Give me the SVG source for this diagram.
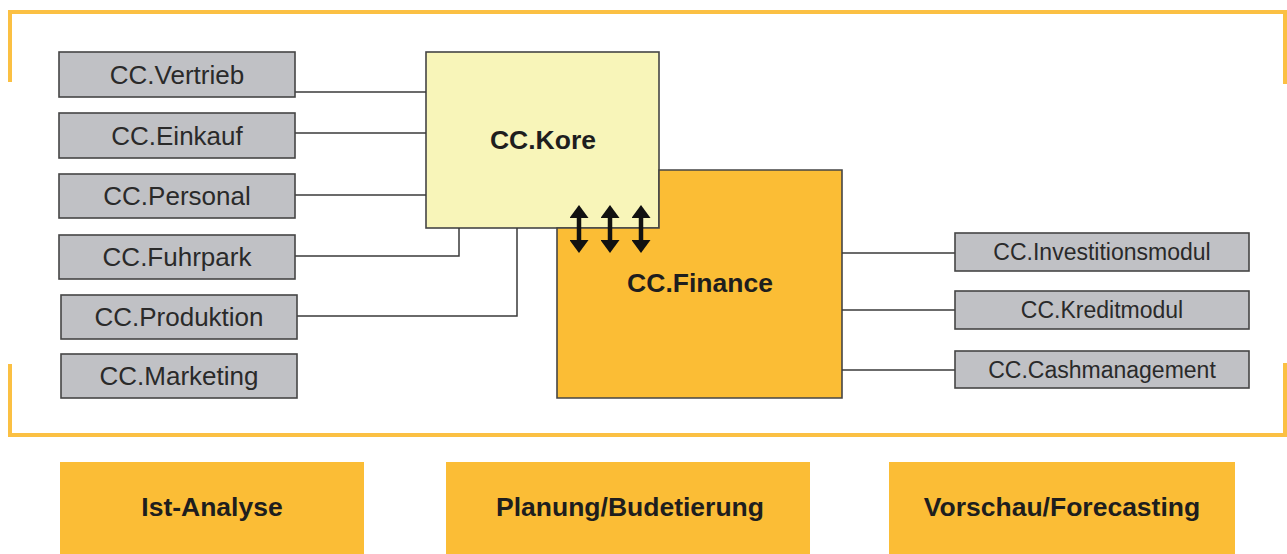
<svg xmlns="http://www.w3.org/2000/svg" width="1287" height="554" viewBox="0 0 1287 554">
<style>
.gray rect{fill:#c0c1c5;stroke:#454545;stroke-width:1.6}
.gray text{font-family:"Liberation Sans",Arial,sans-serif;font-size:26px;fill:#2a2a2a;text-anchor:middle}
.gray.r text{font-size:23px}
.frame{fill:none;stroke:#fbc043;stroke-width:4}
.conn line,.conn polyline{fill:none;stroke:#3a3a3a;stroke-width:1.5}
.big text{font-family:"Liberation Sans",Arial,sans-serif;font-weight:bold;font-size:26.5px;fill:#1e1e1e;text-anchor:middle}
.bottom rect{fill:#fbbd36}
.arr{stroke:#111;stroke-width:4.5;marker-start:url(#ah);marker-end:url(#ah)}
</style>
<defs>
<marker id="ah" viewBox="0 0 13 19" refX="0" refY="9.5" markerWidth="13" markerHeight="19" markerUnits="userSpaceOnUse" orient="auto-start-reverse">
<path d="M0,0 L13,9.5 L0,19 Z" fill="#111"/>
</marker>
</defs>
<rect width="1287" height="554" fill="#ffffff"/>
<g id="frame">
<path class="frame" d="M10,82 V12 H1285 V84"/>
<path class="frame" d="M10,364 V435 H1285 V363"/>
</g>
<g id="kore" class="big">
<rect x="426" y="52" width="233" height="176" fill="#f8f5b9" stroke="#454545" stroke-width="1.6"/>
<text x="543" y="149">CC.Kore</text>
</g>
<g id="finance" class="big">
<path d="M659,170 H842 V398 H557 V228 H659 Z" fill="#fbbd35" stroke="#454545" stroke-width="1.6"/>
<text x="700" y="292">CC.Finance</text>
</g>
<g id="arrows">
<line class="arr" x1="579" y1="218" x2="579" y2="240"/>
<line class="arr" x1="610" y1="218" x2="610" y2="240"/>
<line class="arr" x1="641" y1="218" x2="641" y2="240"/>
</g>
<g id="connectors" class="conn">
<line x1="295" y1="92" x2="426" y2="92"/>
<line x1="295" y1="133" x2="426" y2="133"/>
<line x1="295" y1="195" x2="426" y2="195"/>
<polyline points="295,256 459,256 459,228"/>
<polyline points="297,316 517,316 517,228"/>
<line x1="842" y1="253" x2="955" y2="253"/>
<line x1="842" y1="310" x2="955" y2="310"/>
<line x1="842" y1="370" x2="955" y2="370"/>
</g>
<g id="vertrieb" class="gray"><rect x="59" y="52" width="236" height="45"/><text x="177" y="84">CC.Vertrieb</text></g>
<g id="einkauf" class="gray"><rect x="59" y="113" width="236" height="45"/><text x="177" y="145">CC.Einkauf</text></g>
<g id="personal" class="gray"><rect x="59" y="174" width="236" height="44"/><text x="177" y="205">CC.Personal</text></g>
<g id="fuhrpark" class="gray"><rect x="59" y="235" width="236" height="44"/><text x="177" y="266">CC.Fuhrpark</text></g>
<g id="produktion" class="gray"><rect x="61" y="295" width="236" height="44"/><text x="179" y="326">CC.Produktion</text></g>
<g id="marketing" class="gray"><rect x="61" y="354" width="236" height="44"/><text x="179" y="385">CC.Marketing</text></g>
<g id="investitionsmodul" class="gray r"><rect x="955" y="233" width="294" height="38"/><text x="1102" y="260">CC.Investitionsmodul</text></g>
<g id="kreditmodul" class="gray r"><rect x="955" y="291" width="294" height="38"/><text x="1102" y="318">CC.Kreditmodul</text></g>
<g id="cashmanagement" class="gray r"><rect x="955" y="351" width="294" height="37"/><text x="1102" y="378">CC.Cashmanagement</text></g>
<g id="ist-analyse" class="big bottom"><rect x="60" y="462" width="304" height="92"/><text x="212" y="516">Ist-Analyse</text></g>
<g id="planung" class="big bottom"><rect x="446" y="462" width="364" height="92"/><text x="630" y="516">Planung/Budetierung</text></g>
<g id="vorschau" class="big bottom"><rect x="889" y="462" width="346" height="92"/><text x="1062" y="516">Vorschau/Forecasting</text></g>
</svg>
